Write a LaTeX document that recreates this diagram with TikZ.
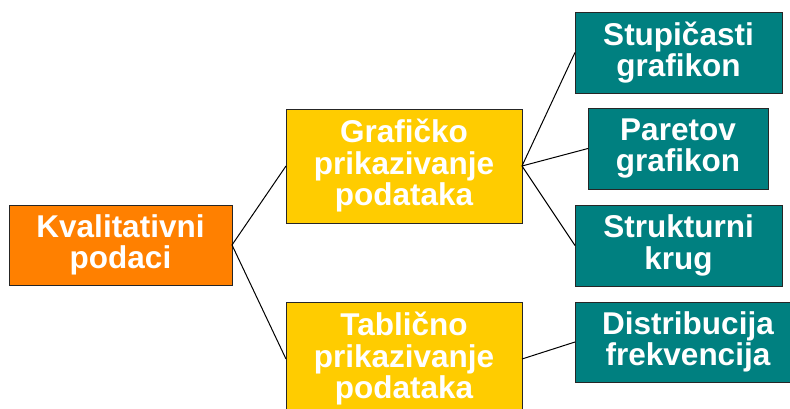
\documentclass[tikz,border=0pt]{standalone}
\usepackage{fontspec}
\setmainfont{Liberation Sans}
\definecolor{boxorange}{HTML}{FF8000}
\definecolor{boxyellow}{HTML}{FFCC00}
\definecolor{boxteal}{HTML}{008080}
\begin{document}
\begin{tikzpicture}[x=1pt,y=-1pt,
  box/.style={draw=black!85, line width=0.8pt, inner sep=0pt, outer sep=0pt, align=center,
    text=white, font=\fontsize{31.5}{31.5}\selectfont\bfseries},
  obox/.style={box, fill=boxorange},
  ybox/.style={box, fill=boxyellow},
  tbox/.style={box, fill=boxteal},
  link/.style={draw=black, line width=1pt}]
\useasboundingbox (0,0) rectangle (790,409);
\clip (0,0) rectangle (790,409);
\node[obox, minimum width=223pt, minimum height=80pt] (kp) at (120.5,245) {Kvalitativni\\podaci};
\node[ybox, minimum width=236pt, minimum height=114pt] (g1) at (404,166) {Grafičko\\prikazivanje\\podataka};
\node[ybox, minimum width=236pt, minimum height=114pt] (g2) at (404,359) {Tablično\\prikazivanje\\podataka};
\node[tbox, minimum width=207pt, minimum height=81pt] (t1) at (678.5,52.5) {Stupičasti\\grafikon};
\node[tbox, minimum width=180pt, minimum height=81pt] (t2) at (678,148.5) {Paretov\\grafikon};
\node[tbox, minimum width=207pt, minimum height=81pt] (t3) at (678.5,245.5) {Strukturni\\krug};
\node[tbox, minimum width=226pt, minimum height=80pt] (t4) at (688,342) {Distribucija\\frekvencija};
\draw[link] (kp.east) -- (g1.west);
\draw[link] (kp.east) -- (g2.west);
\draw[link] (g1.east) -- (t1.west);
\draw[link] (g1.east) -- (t2.west);
\draw[link] (g1.east) -- (t3.west);
\draw[link] (g2.east) -- (t4.west);
\end{tikzpicture}
\end{document}
